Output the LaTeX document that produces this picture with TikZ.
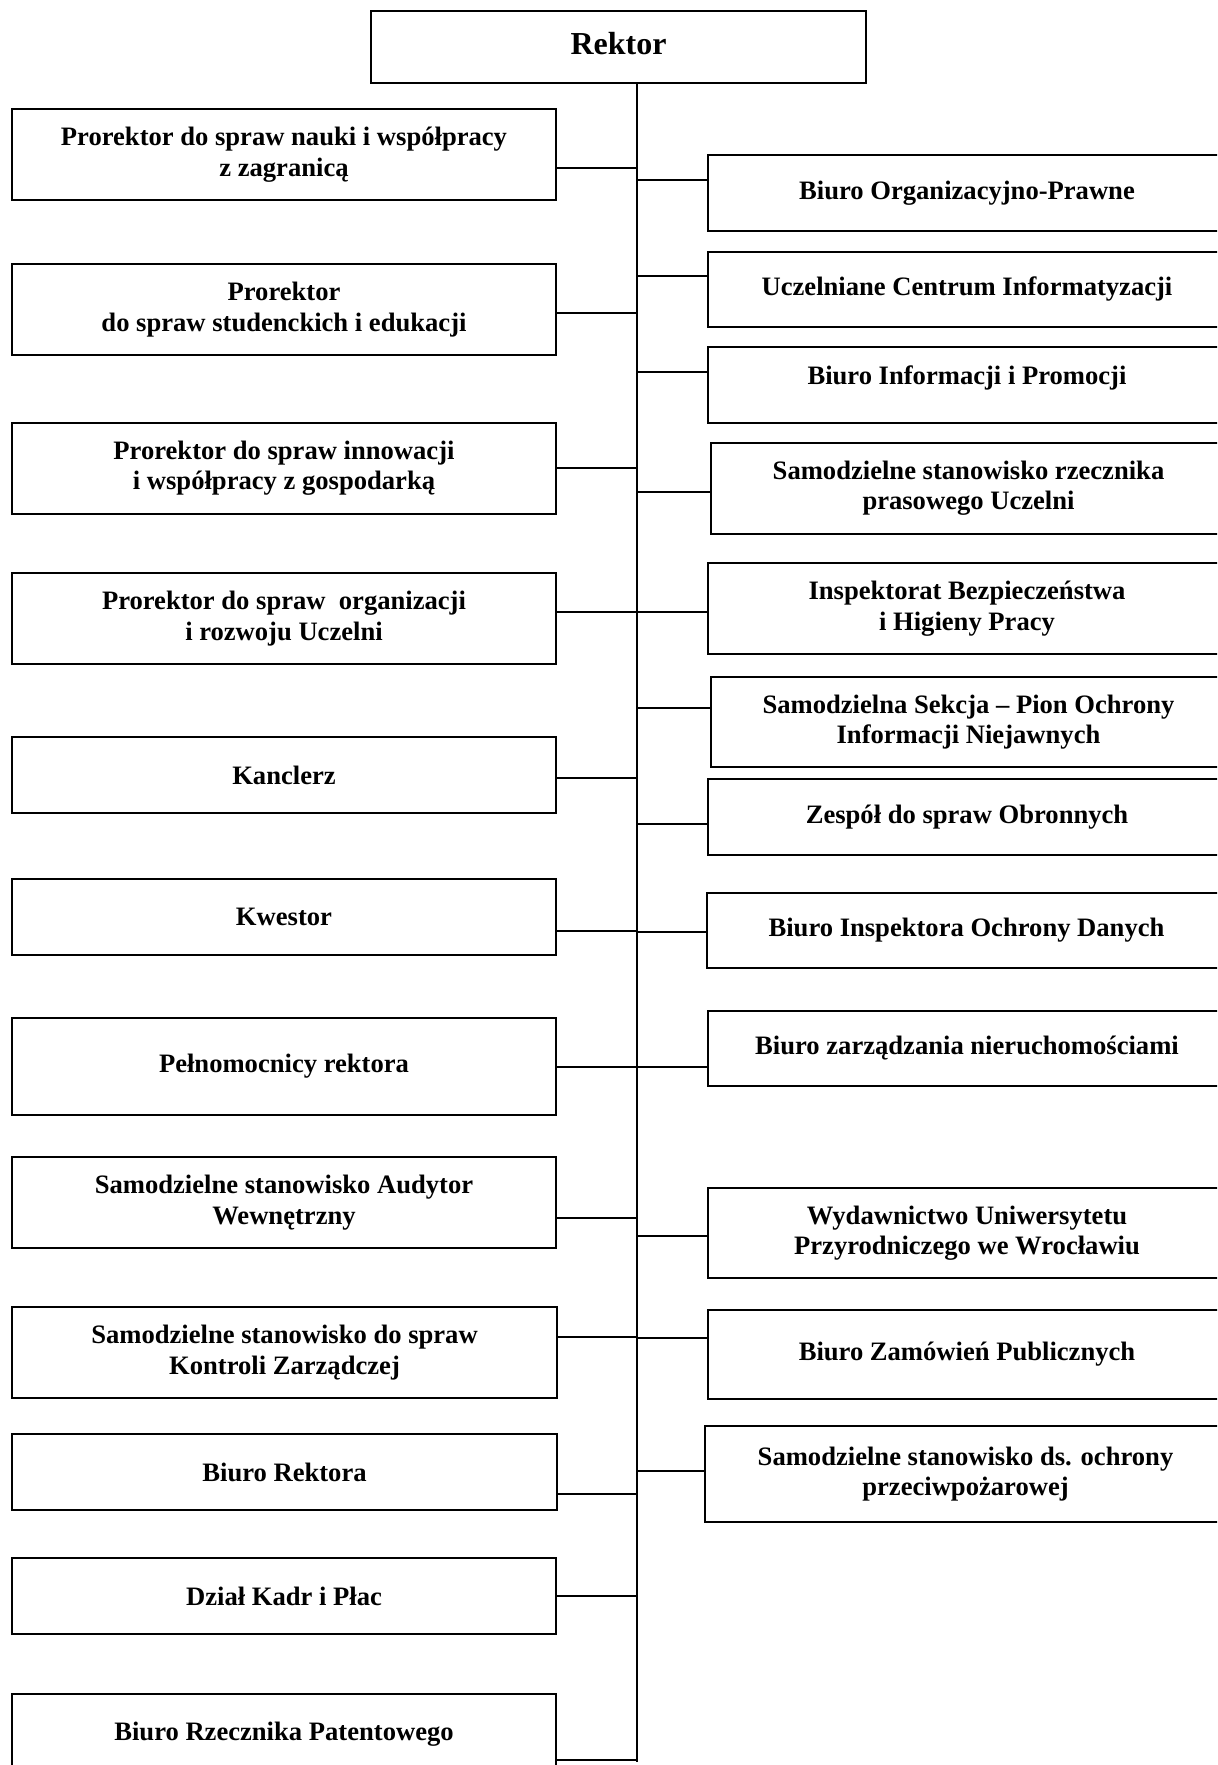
\documentclass[tikz,border=0pt]{standalone}
\usepackage{fontspec}
\setmainfont{Liberation Serif}
\begin{document}
\begin{tikzpicture}[x=0.5pt,y=-0.5pt,
  box/.style={draw=black,line width=0.7pt,inner sep=0pt,align=center,
    font=\fontsize{13.3}{15.2}\selectfont\bfseries},
  thickbox/.style={line width=1.2pt},
  conn/.style={draw=black,line width=0.85pt},
  spine/.style={draw=black,line width=0.55pt}]
\newcommand\unitbox[7][]{%
  \node[box,#1,minimum width={(#5-#3)*0.5pt},minimum height={(#6-#4)*0.5pt}]
    (#2) at ({(#3+#5)/2},{(#4+#6)/2}) {#7};}
\clip (0,0) rectangle (1217,1765);
\fill[white] (0,0) rectangle (1217,1765);

% head of the university
\unitbox[font=\fontsize{16}{18}\selectfont\bfseries]{rektor}{371}{11}{866}{83}{Rektor\\[-14.4pt]\mbox{}}

% left column
\unitbox{L1}{12}{109}{556}{200}{Prorektor do spraw nauki i współpracy\\z zagranicą}
\unitbox{L2}{12}{264}{556}{355}{Prorektor\\do spraw studenckich i edukacji}
\unitbox[thickbox]{L3}{12}{423}{556}{514}{Prorektor do spraw innowacji\\i współpracy z gospodarką}
\unitbox{L4}{12}{573}{556}{664}{Prorektor do spraw~ organizacji\\i rozwoju Uczelni}
\unitbox{L5}{12}{737}{556}{813}{Kanclerz}
\unitbox{L6}{12}{879}{556}{955}{Kwestor}
\unitbox{L7}{12}{1018}{556}{1115}{Pełnomocnicy rektora}
\unitbox{L8}{12}{1157}{556}{1248}{Samodzielne stanowisko Audytor\\Wewnętrzny}
\unitbox{L9}{12}{1307}{557}{1398}{Samodzielne stanowisko do spraw\\Kontroli Zarządczej}
\unitbox{L10}{12}{1434}{557}{1510}{Biuro Rektora}
\unitbox{L11}{12}{1558}{556}{1634}{Dział Kadr i Płac}
\unitbox{L12}{12}{1694}{556}{1775}{Biuro Rzecznika Patentowego}

% right column
\unitbox{R1}{708}{155}{1226}{231}{Biuro Organizacyjno-Prawne}
\unitbox{R2}{708}{252}{1226}{327}{Uczelniane Centrum Informatyzacji}
\unitbox{R3}{708}{347}{1226}{423}{Biuro Informacji i Promocji\\[-5pt]\mbox{}}
\unitbox{R4}{711}{443}{1226}{534}{Samodzielne stanowisko rzecznika\\prasowego Uczelni}
\unitbox{R5}{708}{563}{1226}{654}{Inspektorat Bezpieczeństwa\\i Higieny Pracy}
\unitbox{R6}{711}{677}{1226}{767}{Samodzielna Sekcja – Pion Ochrony\\Informacji Niejawnych}
\unitbox{R7}{708}{779}{1226}{855}{Zespół do spraw Obronnych}
\unitbox{R8}{707}{893}{1226}{968}{Biuro Inspektora Ochrony Danych}
\unitbox{R9}{708}{1011}{1226}{1086}{Biuro zarządzania nieruchomościami}
\unitbox{R10}{708}{1188}{1226}{1278}{Wydawnictwo Uniwersytetu\\Przyrodniczego we Wrocławiu}
\unitbox{R11}{708}{1310}{1226}{1399}{Biuro Zamówień Publicznych}
\unitbox{R12}{705}{1426}{1226}{1522}{Samodzielne stanowisko ds. ochrony\\przeciwpożarowej}

% vertical line below the head
\coordinate (spineend) at (637,1762);
\draw[spine] (rektor.south -| spineend) -- (spineend);

% junctions on the vertical line, left side
\foreach \n/\y in {1/168,2/313,3/468,4/612,5/778,6/931,7/1067,8/1218,9/1337,10/1494,11/1596,12/1760}{
  \coordinate (jL\n) at (637,\y);
  \draw[conn] (jL\n -| L\n.east) -- (jL\n);
}
% junctions on the vertical line, right side
\foreach \n/\y in {1/180,2/276,3/372,4/492,5/612,6/708,7/824,8/932,9/1067,10/1236,11/1338,12/1471}{
  \coordinate (jR\n) at (637,\y);
  \draw[conn] (jR\n) -- (jR\n -| R\n.west);
}
\end{tikzpicture}
\end{document}
